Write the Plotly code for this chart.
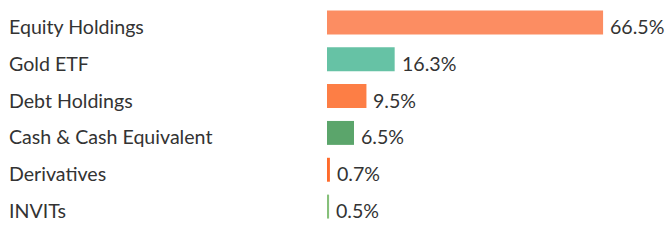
import plotly.graph_objects as go

categories = ["Equity Holdings", "Gold ETF", "Debt Holdings", "Cash & Cash Equivalent", "Derivatives", "INVITs"]
values = [66.5, 16.3, 9.5, 6.5, 0.7, 0.5]
value_labels = ["66.5%", "16.3%", "9.5%", "6.5%", "0.7%", "0.5%"]
colors = ["#FC8D62", "#66C2A5", "#FD7E45", "#5BA56B", "#FF6B2B", "#86C07A"]

W, H = 672, 240
FONT = "Lato"
FSIZE = 19.6
TXT = "#333333"

fig = go.Figure()
fig.add_trace(go.Bar(
    x=values, y=categories, orientation="h",
    marker=dict(color=colors, line=dict(width=0)),
    hoverinfo="skip",
))

annotations = []
for c, v, lab in zip(categories, values, value_labels):
    annotations.append(dict(
        x=7 / W, xref="paper", y=c, yref="y", text=c, showarrow=False,
        xanchor="left", yanchor="middle", yshift=-4,
        font=dict(family=FONT, size=FSIZE, color=TXT),
    ))
    annotations.append(dict(
        x=v, xref="x", y=c, yref="y", text=lab, showarrow=False,
        xanchor="left", yanchor="middle", xshift=5, yshift=-4,
        font=dict(family=FONT, size=FSIZE, color=TXT),
    ))

fig.update_layout(
    width=W, height=H,
    margin=dict(l=0, r=0, t=3.5, b=15, pad=0),
    paper_bgcolor="white", plot_bgcolor="white",
    showlegend=False,
    bargap=0.35,
    xaxis=dict(domain=[327 / W, 1], range=[0, 83.1], visible=False, fixedrange=True),
    yaxis=dict(autorange="reversed", visible=False, fixedrange=True),
    annotations=annotations,
)

fig.write_html("out.html", config={"displayModeBar": False})
